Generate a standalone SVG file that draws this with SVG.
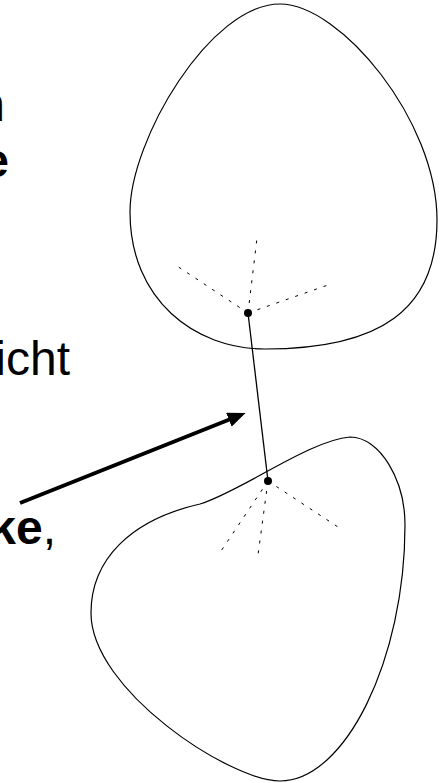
<svg xmlns="http://www.w3.org/2000/svg" width="442" height="783" viewBox="0 0 442 783">
<style>
.blob{fill:none;stroke:#000;stroke-width:1.2}
.ray{fill:none;stroke:#000;stroke-width:1;stroke-dasharray:3 7}
.dot{fill:#000}
.txt{font-family:"Liberation Sans",Arial,sans-serif;font-size:48px;fill:#000}
.b{font-weight:bold}
</style>
<defs>
<marker id="ah" markerUnits="userSpaceOnUse" markerWidth="18" markerHeight="15" viewBox="0 0 18 15" refX="2" refY="7.5" orient="auto">
<path d="M0,0 L18,7.5 L0,15 z" fill="#000"/>
</marker>
</defs>
<g id="labels">
<text class="txt" x="5" y="121" text-anchor="end">n</text>
<text class="txt b" x="9" y="177" text-anchor="end">e</text>
<text class="txt" x="70" y="375" text-anchor="end">icht</text>
<text class="txt" x="56" y="544" text-anchor="end"><tspan class="b">ke</tspan>,</text>
</g>
<g id="upper-body">
<path class="blob" d="M280,4 C340,4 437,120 437,220 C437,310 380,349 265,349 C195,349 130,300 130,212 C130,140 210,4 280,4 Z"/>
<path class="ray" d="M248,313 L177,266 M248,313 L257,238 M248,313 L328,285"/>
<circle class="dot" cx="248" cy="313" r="4"/>
</g>
<g id="lower-body">
<path class="blob" d="M350,437 C380,437 405,480 405,525 C405,660 345,781 280,781 C230,781 91,690 91,613 C91,560 130,520 200,504 C240,492 310,440 350,437 Z"/>
<path class="ray" d="M268,481 L221,551 M268,481 L258,555 M268,481 L338,527"/>
<circle class="dot" cx="268" cy="481" r="4"/>
</g>
<g id="connectors">
<line x1="248" y1="313" x2="268" y2="481" stroke="#000" stroke-width="1.3"/>
<line x1="20" y1="503" x2="230.7" y2="419" stroke="#000" stroke-width="4" marker-end="url(#ah)"/>
</g>
</svg>
